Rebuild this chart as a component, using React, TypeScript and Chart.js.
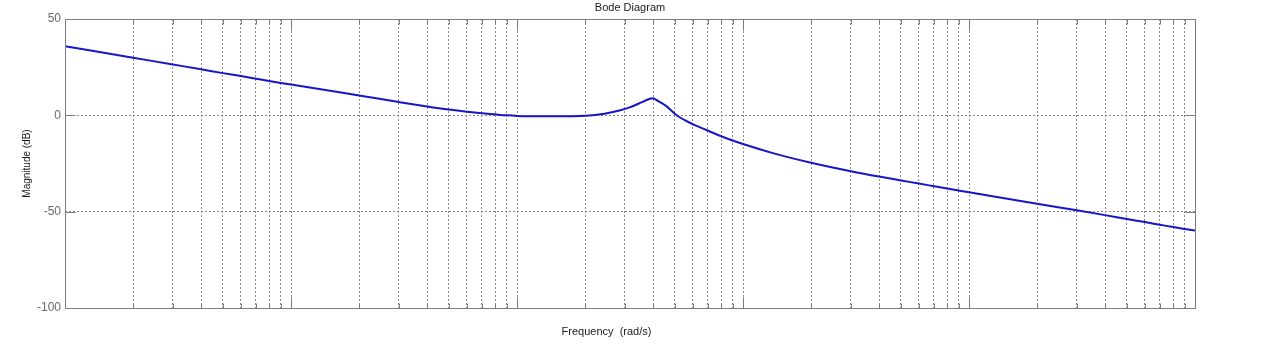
import React, { useEffect, useRef } from 'react';
import { Chart, registerables } from 'chart.js';

Chart.register(...registerables);

// ---- data ----
const FREQ = [
  0.01, 0.02, 0.03, 0.04, 0.05, 0.06, 0.07, 0.08, 0.09, 0.1,
  0.2, 0.3, 0.4, 0.5, 0.6, 0.7, 0.8, 0.9, 1.0,
  1.3, 1.6, 1.89, 2.15, 2.44, 2.84, 3.15, 3.55, 3.79, 3.99, 4.2, 4.58, 5.07, 5.8, 6.88, 8.44,
  10, 13.56, 20, 30, 40, 50, 60, 70, 80, 90, 100,
  200, 300, 400, 500, 600, 700, 800, 900, 1000,
];
const MAG_DB = [
  35.9, 29.9, 26.4, 23.9, 21.9, 20.4, 19.0, 17.8, 16.8, 16.0,
  10.3, 6.9, 4.6, 3.0, 1.9, 1.1, 0.5, 0.0, -0.3,
  -0.5, -0.5, -0.4, 0.0, 0.8, 2.5, 4.1, 6.7, 8.2, 8.9, 7.5, 4.8, 0.2, -3.8, -7.6, -11.9,
  -14.9, -19.6, -24.6, -29.0, -31.8, -33.8, -35.4, -36.8, -38.0, -39.0, -39.9,
  -45.9, -49.3, -51.8, -53.8, -55.4, -56.8, -58.0, -59.0, -59.8,
];
const Y_TICKS = [-100, -50, 0, 50];
const X_DECADES = [0.01, 0.1, 1, 10, 100];
const X_MULTIPLIERS = [1, 2, 3, 4, 5, 6, 7, 8, 9];
const X_MIN = 0.01;
const X_MAX = 1000;
const TITLE = 'Bode Diagram';
const X_LABEL = 'Frequency  (rad/s)';
const Y_LABEL = 'Magnitude (dB)';

const X_GRID: number[] = [];
X_DECADES.forEach((d) => X_MULTIPLIERS.forEach((m) => X_GRID.push(parseFloat((d * m).toPrecision(3)))));
X_GRID.push(X_MAX);

const FONT = "'Liberation Sans', Arial, Helvetica, sans-serif";
const FRAME = '#7c7c86';
const GRID = '#8c8c8c';
const LINE = '#1616c8';

const isDecade = (v: number) => Math.abs(Math.log10(v) - Math.round(Math.log10(v))) < 1e-9;

const framePlugin = {
  id: 'bodeFrame',
  afterDatasetsDraw(chart: any) {
    const { ctx, chartArea: a, scales } = chart;
    const x = scales.x;
    const y = scales.y;
    ctx.save();
    ctx.strokeStyle = FRAME;
    ctx.lineWidth = 1;
    ctx.setLineDash([]);
    ctx.beginPath();
    const L = Math.round(a.left) + 0.5;
    const R = Math.round(a.right) + 0.5;
    const T = Math.round(a.top) + 0.5;
    const B = Math.round(a.bottom) + 0.5;
    ctx.rect(L, T, R - L, B - T);
    X_GRID.forEach((v) => {
      const px = Math.round(x.getPixelForValue(v)) + 0.5;
      const len = isDecade(v) ? 11 : 5;
      ctx.moveTo(px, B);
      ctx.lineTo(px, B - len);
      ctx.moveTo(px, T);
      ctx.lineTo(px, T + len);
    });
    Y_TICKS.forEach((v) => {
      const py = Math.round(y.getPixelForValue(v)) + 0.5;
      ctx.moveTo(L, py);
      ctx.lineTo(L + 10, py);
      ctx.moveTo(R, py);
      ctx.lineTo(R - 10, py);
    });
    ctx.stroke();
    ctx.restore();
  },
  afterDraw(chart: any) {
    const { ctx, chartArea: a } = chart;
    ctx.save();
    ctx.fillStyle = '#1a1a1a';
    ctx.textAlign = 'center';
    ctx.textBaseline = 'middle';
    ctx.font = `11px ${FONT}`;
    ctx.fillText(TITLE, (a.left + a.right) / 2, 8);
    ctx.fillText(X_LABEL, 606.5, 332);
    ctx.translate(27, (a.top + a.bottom) / 2);
    ctx.rotate(-Math.PI / 2);
    ctx.font = `10px ${FONT}`;
    ctx.fillText(Y_LABEL, 0, 0);
    ctx.restore();
  },
};

export default function App() {
  const ref = useRef<HTMLCanvasElement | null>(null);

  useEffect(() => {
    if (!ref.current) return;
    const chart = new Chart(ref.current, {
      type: 'line',
      data: {
        datasets: [
          {
            data: FREQ.map((f, i) => ({ x: f, y: MAG_DB[i] })),
            borderColor: LINE,
            borderWidth: 2,
            pointRadius: 0,
            fill: false,
            cubicInterpolationMode: 'monotone',
          },
        ],
      },
      options: {
        animation: false,
        responsive: false,
        devicePixelRatio: 1,
        parsing: false as any,
        layout: { padding: { left: 0, top: 19, right: 67, bottom: 0 } },
        plugins: { legend: { display: false }, tooltip: { enabled: false }, title: { display: false } },
        scales: {
          x: {
            type: 'logarithmic',
            min: X_MIN,
            max: X_MAX,
            afterBuildTicks: (s: any) => {
              s.ticks = X_GRID.map((v) => ({ value: v, major: isDecade(v) }));
            },
            afterFit: (s: any) => {
              s.height = 54;
            },
            ticks: { display: false },
            grid: {
              color: (c: any) => (c.tick && (c.tick.value === X_MIN || c.tick.value === X_MAX) ? 'rgba(0,0,0,0)' : GRID),
              lineWidth: 1,
              drawTicks: false,
            },
            border: { display: false, dash: [2, 2] },
          },
          y: {
            type: 'linear',
            min: -100,
            max: 50,
            afterBuildTicks: (s: any) => {
              s.ticks = Y_TICKS.map((v) => ({ value: v }));
            },
            afterFit: (s: any) => {
              s.width = 65;
            },
            ticks: {
              color: '#6a6a6a',
              font: { family: FONT, size: 12 },
              padding: 4,
            },
            grid: {
              color: (c: any) => (c.tick && (c.tick.value === -100 || c.tick.value === 50) ? 'rgba(0,0,0,0)' : GRID),
              lineWidth: 1,
              drawTicks: false,
            },
            border: { display: false, dash: [2, 2] },
          },
        },
      } as any,
      plugins: [framePlugin],
    });
    return () => chart.destroy();
  }, []);

  return (
    <div style={{ position: 'fixed', left: 0, top: 0, width: 1262, height: 362, background: '#fff' }}>
      <canvas ref={ref} width={1262} height={362} style={{ display: 'block', width: 1262, height: 362 }} />
    </div>
  );
}
